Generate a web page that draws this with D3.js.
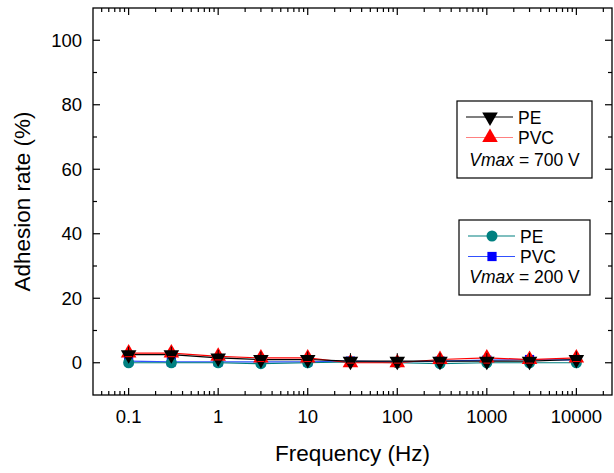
<!DOCTYPE html>
<html><head><meta charset="utf-8">
<script src="https://cdn.jsdelivr.net/npm/d3@7"></script>
<style>body{margin:0;background:#fff}svg{display:block;font-family:"Liberation Sans",Arial,sans-serif}</style>
</head><body><svg id="c" width="614" height="473"></svg>
<script>
const freqs = [0.1, 0.3, 1, 3, 10, 30, 100, 300, 1000, 3000, 10000];
const pe700 = [2.5, 2.5, 1.5, 1.0, 1.0, 0.5, 0.5, 0.5, 0.5, 0.5, 1.0];
const pvc700 = [3.0, 3.0, 2.0, 1.5, 1.5, 0.0, 0.0, 1.0, 1.5, 1.0, 1.5];
const pe200 = [0.0, 0.0, 0.0, -0.3, 0.0, 0.3, 0.0, -0.3, 0.0, 0.0, 0.0];
const pvc200 = [0.5, 0.3, 0.3, 0.3, 0.3, 0.5, 0.3, 0.5, 0.8, 1.0, 0.8];
const xTickLabels = ["0.1", "1", "10", "100", "1000", "10000"];
const yTickLabels = ["0", "20", "40", "60", "80", "100"];

const svg = d3.select("#c");
const L = 93, R = 612, T = 8, B = 395;
const x = d3.scaleLog().domain([0.04, 25000]).range([L, R]);
const y = d3.scaleLinear().domain([-10, 110]).range([B, T]);

svg.append("rect").attr("x", L).attr("y", T).attr("width", R - L).attr("height", B - T)
  .attr("fill", "none").attr("stroke", "#000").attr("stroke-width", 1.3);

const xMajor = xTickLabels.map(Number);
const xMinor = [];
for (let e = -2; e <= 4; e++) for (let m = 2; m <= 9; m++) {
  const v = m * Math.pow(10, e);
  if (v > 0.04 && v < 25000) xMinor.push(v);
}
const yMajor = yTickLabels.map(Number);
const yMinor = [10, 30, 50, 70, 90];

const tk = svg.append("g").attr("stroke", "#000").attr("stroke-width", 1.2);
[B, T].forEach((yy, i) => {
  const dir = i === 0 ? -1 : 1;
  xMajor.forEach(v => tk.append("line").attr("x1", x(v)).attr("x2", x(v)).attr("y1", yy).attr("y2", yy + dir * 7));
  xMinor.forEach(v => tk.append("line").attr("x1", x(v)).attr("x2", x(v)).attr("y1", yy).attr("y2", yy + dir * 4));
});
[L, R].forEach((xx, i) => {
  const dir = i === 0 ? 1 : -1;
  yMajor.forEach(v => tk.append("line").attr("y1", y(v)).attr("y2", y(v)).attr("x1", xx).attr("x2", xx + dir * 7));
  yMinor.forEach(v => tk.append("line").attr("y1", y(v)).attr("y2", y(v)).attr("x1", xx).attr("x2", xx + dir * 4));
});

xTickLabels.forEach(t => svg.append("text").attr("x", x(+t)).attr("y", 423)
  .attr("text-anchor", "middle").attr("font-size", 18.5).text(t));
yTickLabels.forEach(t => svg.append("text").attr("x", 82).attr("y", y(+t) + 6.5)
  .attr("text-anchor", "end").attr("font-size", 18.5).text(t));

svg.append("text").attr("x", (L + R) / 2).attr("y", 461).attr("text-anchor", "middle")
  .attr("font-size", 22.5).text("Frequency (Hz)");
svg.append("text").attr("transform", `translate(30,${(T + B) / 2}) rotate(-90)`)
  .attr("text-anchor", "middle").attr("font-size", 22.5).text("Adhesion rate (%)");

const sym = {
  down: d3.symbol().type(d3.symbolTriangle).size(105),
  up: d3.symbol().type(d3.symbolTriangle).size(105),
  circle: d3.symbol().type(d3.symbolCircle).size(95),
  square: d3.symbol().type(d3.symbolSquare).size(85)
};
function drawMarker(g, kind, cx, cy, color) {
  const p = g.append("path").attr("d", sym[kind]()).attr("fill", color);
  if (kind === "down") p.attr("transform", `translate(${cx},${cy}) rotate(180)`);
  else p.attr("transform", `translate(${cx},${cy})`);
}

const series = [
  { vals: pvc200, color: "#0000ff", line: "#3050ff", kind: "square" },
  { vals: pe200, color: "#008080", line: "#008080", kind: "circle" },
  { vals: pvc700, color: "#ff0000", line: "#ff0000", kind: "up" },
  { vals: pe700, color: "#000000", line: "#000000", kind: "down" }
];
const lineGen = d3.line().x(d => x(d[0])).y(d => y(d[1]));
series.forEach(s => {
  const pts = freqs.map((f, i) => [f, s.vals[i]]);
  svg.append("path").attr("d", lineGen(pts)).attr("fill", "none")
    .attr("stroke", s.line).attr("stroke-width", 1.2);
});
series.forEach(s => {
  const g = svg.append("g");
  freqs.forEach((f, i) => drawMarker(g, s.kind, x(f), y(s.vals[i]), s.color));
});
const eb = svg.append("g").attr("stroke-width", 1);
freqs.forEach((f, i) => {
  const cx = x(f), cy = y(pe700[i]);
  eb.append("line").attr("x1", cx).attr("x2", cx).attr("y1", cy - 8).attr("y2", cy + 8).attr("stroke", "#000");
  eb.append("line").attr("x1", cx - 3.5).attr("x2", cx + 3.5).attr("y1", cy + 2).attr("y2", cy + 2).attr("stroke", "#ff0000");
});

function legend(x0, y0, w, h, items, vtext) {
  const g = svg.append("g");
  g.append("rect").attr("x", x0).attr("y", y0).attr("width", w).attr("height", h)
    .attr("fill", "#fff").attr("stroke", "#000").attr("stroke-width", 1.2);
  items.forEach((it, i) => {
    const yy = y0 + 16 + i * 20.5;
    g.append("line").attr("x1", x0 + 9).attr("x2", x0 + 56).attr("y1", yy).attr("y2", yy)
      .attr("stroke", it.line).attr("stroke-width", 1.2);
    drawMarker(g, it.kind, x0 + 33, yy, it.color);
    g.append("text").attr("x", x0 + 61).attr("y", yy + 6.5).attr("font-size", 17.5).text(it.label);
  });
  const t = g.append("text").attr("x", x0 + w / 2).attr("y", y0 + h - 12).attr("text-anchor", "middle")
    .attr("font-size", 17.5);
  t.append("tspan").attr("font-style", "italic").text("Vmax");
  t.append("tspan").text(" = " + vtext);
}
legend(457, 101, 135, 77, [
  { label: "PE", kind: "down", color: "#000", line: "#000" },
  { label: "PVC", kind: "up", color: "#ff0000", line: "#ff8080" }
], "700 V");
legend(459, 220, 131, 75, [
  { label: "PE", kind: "circle", color: "#008080", line: "#008080" },
  { label: "PVC", kind: "square", color: "#0000ff", line: "#3050ff" }
], "200 V");
</script></body></html>
